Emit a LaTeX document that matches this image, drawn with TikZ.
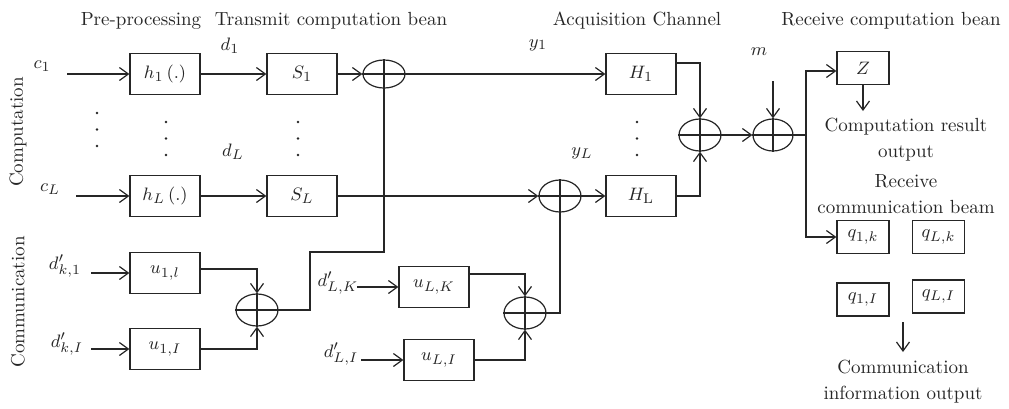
\documentclass[tikz,border=0pt]{standalone}
\usetikzlibrary{arrows.meta,shapes.geometric}
\begin{document}
\begin{tikzpicture}[x=0.5pt,y=-0.5pt,
  font=\fontsize{9.5}{13}\selectfont,
  line width=0.6pt, color=black!85,
  box/.style={draw, minimum width=35pt, minimum height=20.5pt, inner sep=0pt},
  qbox/.style={draw, minimum width=26pt, minimum height=16.5pt, inner sep=0pt},
  sum/.style={draw, ellipse, minimum width=21pt, minimum height=16pt, inner sep=0pt},
  arr/.style={-{Straight Barb[length=4.5pt,width=6.5pt]}},
  lbl/.style={inner sep=0pt},
  txt/.style={inner sep=0pt, align=center},
]
\useasboundingbox (0,0) rectangle (1009,408);

% titles
\node[lbl] (t1) at (141,21) {Pre-processing};
\node[lbl] (t2) at (331,21) {Transmit computation bean};
\node[lbl] (t3) at (637,21) {Acquisition Channel};
\node[lbl] (t4) at (891,21) {Receive computation bean};
\node[lbl,rotate=90] (sc) at (18,132) {Computation};
\node[lbl,rotate=90] (sm) at (18,302) {Communication};

% computation rows
\node[box] (h1) at (165,74) {$h_1\,(.)$};
\node[box] (hL) at (165,196) {$h_L\,(.)$};
\node[box] (s1) at (302,74) {$S_1$};
\node[box] (sL) at (302,196) {$S_L$};
\node[sum, minimum height=14pt] (o1) at (384,74) {};
\node[sum] (oL) at (560,196) {};
\node[box] (H1) at (641,74) {$H_1$};
\node[box] (HL) at (641,196) {$H_{\mathrm{L}}$};

\node[lbl] (c1) at (42,66) {$c_1$};
\node[lbl] (cL) at (50,189) {$c_L$};
\coordinate (c1a) at (67,74);
\coordinate (cLa) at (76,196);
\node[lbl] (d1) at (230,46) {$d_1$};
\node[lbl] (dL) at (233,152) {$d_L$};
\node[lbl] (y1) at (538,45) {$y_1$};
\node[lbl] (yL) at (582,153) {$y_L$};

\foreach \x/\y in {97/113,166/122,298/122,637/122}{
  \fill (\x,\y) circle[radius=0.7pt];
  \fill (\x,\y+16.5) circle[radius=0.7pt];
  \fill (\x,\y+33) circle[radius=0.7pt];
}

\draw[arr] (c1a) -- (h1);
\draw[arr] (h1) -- (s1);
\draw[arr] (s1) -- (o1);
\draw[arr] (o1) -- (H1);
\draw[arr] (cLa) -- (hL);
\draw[arr] (hL) -- (sL);
\draw[arr] (sL) -- (oL);
\draw[arr] (oL) -- (HL);

% communication
\node[box] (u1l) at (165,273) {$u_{1,l}$};
\node[box] (u1I) at (165,349) {$u_{1,I}$};
\node[sum] (oc1) at (257,310) {};
\node[box] (uLK) at (434,287) {$u_{L,K}$};
\node[box] (uLI) at (439,360) {$u_{L,I}$};
\node[sum] (ocL) at (525,313) {};

\node[lbl] (dk1) at (65,266) {$d'_{k,1}$};
\node[lbl] (dkI) at (67,344) {$d'_{k,I}$};
\node[lbl] (dLK) at (338,283) {$d'_{L,K}$};
\node[lbl] (dLI) at (341,354) {$d'_{L,I}$};
\coordinate (dk1a) at (91,273);
\coordinate (dkIa) at (91,349);
\coordinate (dLKa) at (357,287);
\coordinate (dLIa) at (361,360);

\draw[arr] (dk1a) -- (u1l);
\draw[arr] (dkIa) -- (u1I);
\draw[arr] (dLKa) -- (uLK);
\draw[arr] (dLIa) -- (uLI);
\draw[arr] ([yshift=2pt]u1l.east) -| (oc1.north);
\draw[arr] (u1I.east) -| (oc1.south);
\draw[arr] ([yshift=6.5pt]uLK.east) -| (ocL.north);
\draw[arr] (uLI.east) -| (ocL.south);
\coordinate (j1) at (310,252);
\draw (oc1.east) -| (j1) -| (o1.south);
\draw (ocL.east) -| (oL.south);

% receiver
\node[sum] (o2) at (700,135) {};
\node[sum, minimum width=20pt] (o3) at (773,135) {};
\draw[arr] ([yshift=5.5pt]H1.east) -| (o2.north);
\draw[arr] (HL.east) -| (o2.south);
\draw[arr] (o2) -- (o3);
\node[lbl] (m) at (759,52) {$m$};
\coordinate (ma) at (773,81);
\draw[arr] (ma) -- (o3.north);

\node[qbox] (Z) at (863,68) {$Z$};
\node[qbox] (q1k) at (863,237) {$q_{1,k}$};
\node[qbox] (qLk) at (938.5,237) {$q_{L,k}$};
\node[qbox] (q1I) at (863,299.5) {$q_{1,I}$};
\node[qbox] (qLI) at (938.5,296.5) {$q_{L,I}$};
\coordinate (sp) at (806,135);
\draw (o3.east) -- (sp);
\draw[arr] (sp) |- ([yshift=-1.5pt]Z.west);
\draw[arr] (sp) |- (q1k.west);

\coordinate (zo) at (863,111);
\draw[arr] (Z.south) -- (zo);
\node[txt] (cro) at (906,140) {Computation result\\output};
\node[txt] (rcb) at (906,194) {Receive\\communication beam};
\coordinate (qa) at (903,322);
\coordinate (qb) at (903,352);
\draw[arr] (qa) -- (qb);
\node[txt] (cio) at (903,381.5) {Communication\\information output};

% plus marks inside the summing ellipses
\foreach \n in {o1,oL,oc1,ocL,o2,o3}{
  \draw (\n.north) -- (\n.south) (\n.west) -- (\n.east);
}
\end{tikzpicture}
\end{document}
